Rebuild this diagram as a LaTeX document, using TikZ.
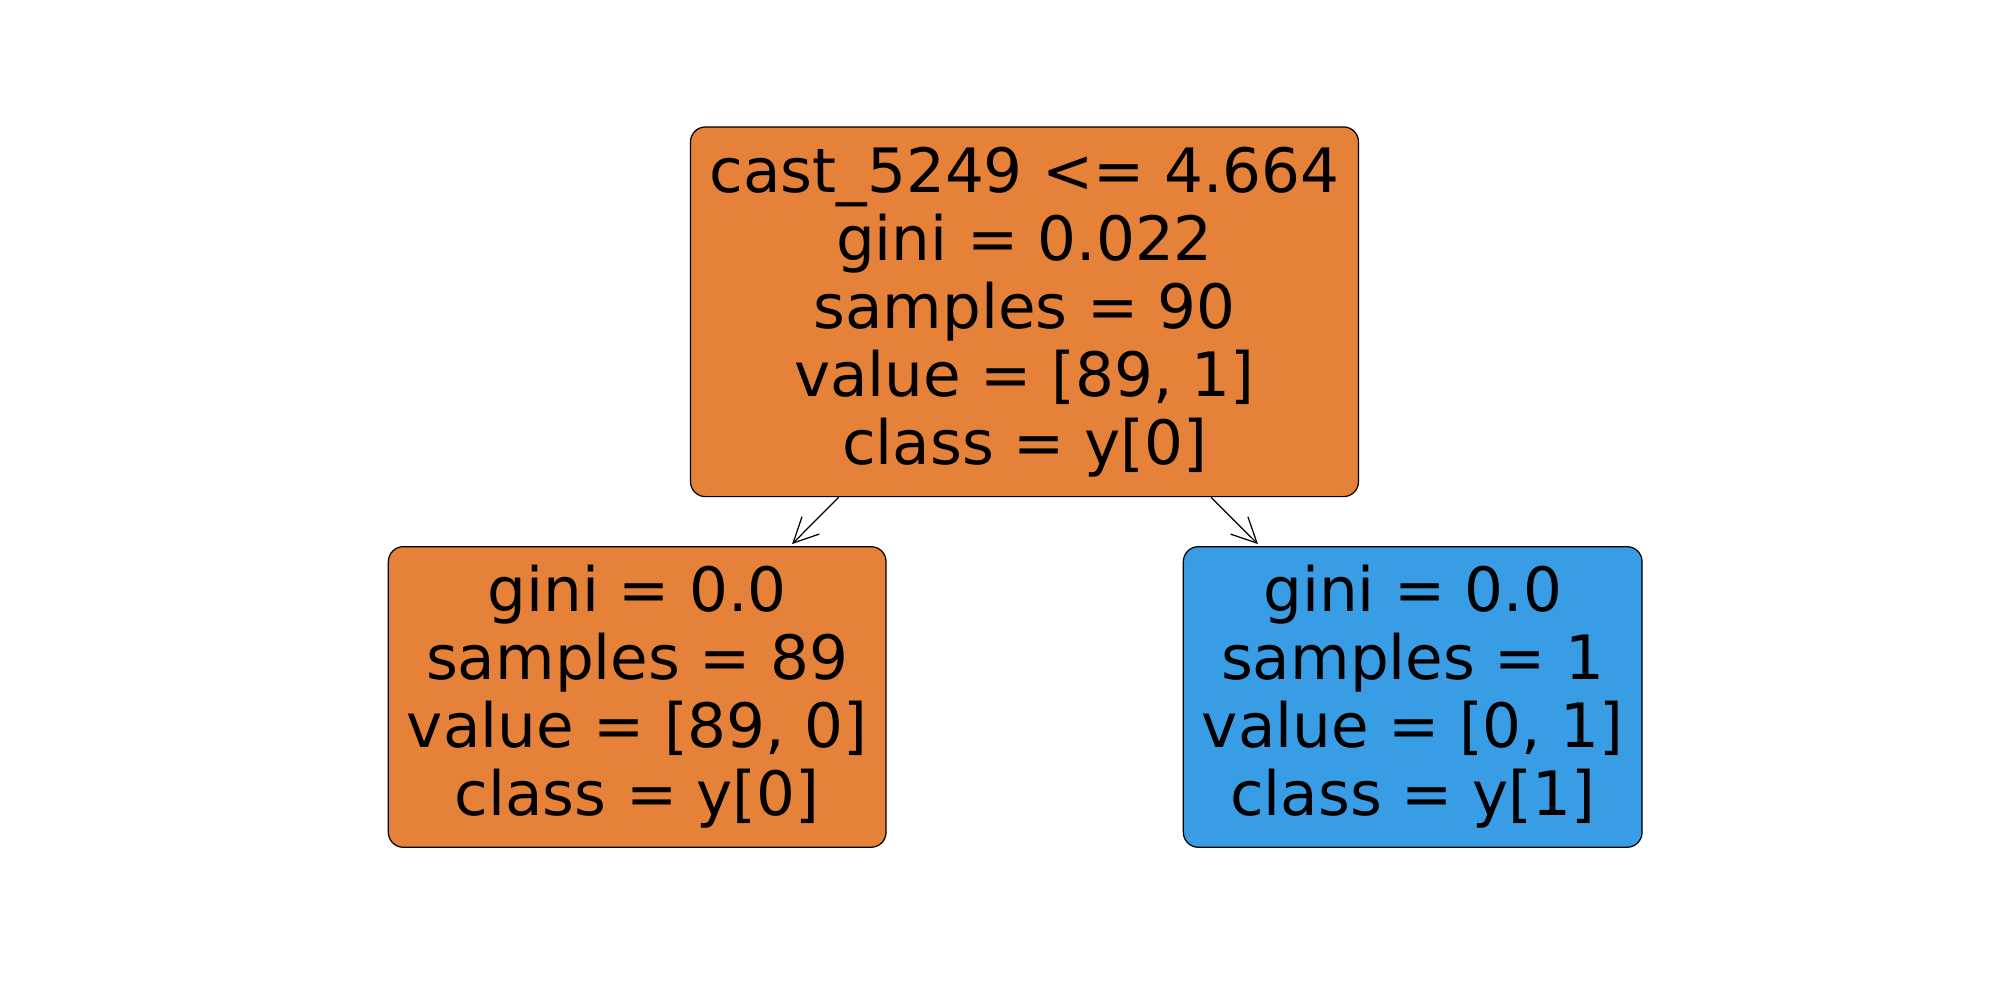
\documentclass[tikz,border=0pt]{standalone}
\usepackage{fontspec}
\setmainfont{DejaVu Sans}
\usetikzlibrary{arrows.meta,calc}
\definecolor{skorange}{RGB}{229,129,57}
\definecolor{skblue}{RGB}{57,157,229}
\tikzset{
  treebox/.style={draw=black, line width=0.35pt, rounded corners=0.15cm, inner sep=0pt,
    align=center, font=\fontsize{17.4pt}{19.35pt}\selectfont, text=black},
  edgearrow/.style={draw=black, line width=0.35pt, -{Straight Barb[length=2.5mm,width=2.46mm]}}
}
\begin{document}
\begin{tikzpicture}
\useasboundingbox (0,0) rectangle (20,10);
\node[treebox, fill=skorange, minimum width=6.68cm, minimum height=3.697cm] (root) at (10.245,6.882)
  {cast\_5249 <= 4.664\\gini = 0.022\\samples = 90\\value = [89, 1]\\class = y[0]};
\node[treebox, fill=skorange, minimum width=4.977cm, minimum height=3.006cm] (left) at (6.372,3.03)
  {gini = 0.0\\samples = 89\\value = [89, 0]\\class = y[0]};
\node[treebox, fill=skblue, minimum width=4.587cm, minimum height=3.006cm] (right) at (14.127,3.03)
  {gini = 0.0\\samples = 1\\value = [0, 1]\\class = y[1]};
\draw[edgearrow] ($(root.south west)!0.2223!(root.south east)$) -- ($(left.north west)!0.8105!(left.north east)+(0,0.02)$);
\draw[edgearrow] ($(root.south west)!0.7787!(root.south east)$) -- ($(right.north west)!0.1635!(right.north east)+(0,0.02)$);
\end{tikzpicture}
\end{document}
